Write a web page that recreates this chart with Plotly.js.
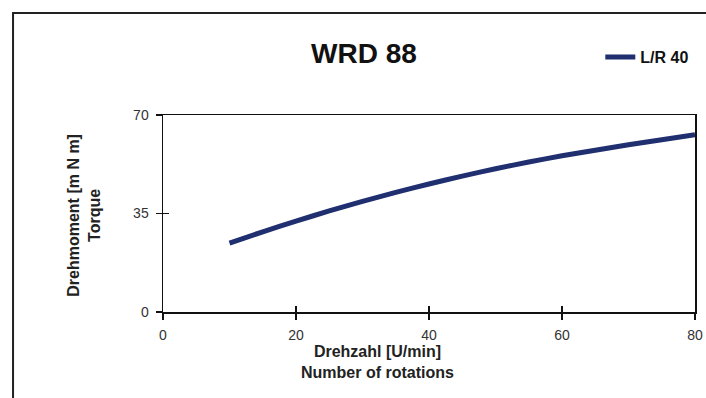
<!DOCTYPE html>
<html>
<head>
<meta charset="utf-8">
<script src="https://cdn.plot.ly/plotly-3.0.1.min.js"></script>
<style>html,body{margin:0;padding:0;background:#fff;overflow:hidden;}#chart{width:706px;height:398px;}</style>
</head>
<body>
<div id="chart"></div>
<script>
const speed = [10, 15, 20, 25, 30, 35, 40, 45, 50, 55, 60, 65, 70, 75, 80];
const torqueLR40 = [24.5, 28.5, 32.3, 35.9, 39.3, 42.5, 45.5, 48.3, 50.9, 53.3, 55.5, 57.5, 59.4, 61.2, 63.0];
const xTicks = [0, 20, 40, 60, 80];
const yTicks = [0, 35, 70];
const seriesName = 'L/R 40';
const chartTitle = 'WRD 88';

const sans = '"Liberation Sans", Arial, sans-serif';

const traces = [
  {x: speed, y: torqueLR40, name: seriesName, type: 'scatter', mode: 'lines',
   line: {color: '#1f2f6f', width: 5, shape: 'spline', smoothing: 0.8}, xaxis: 'x', yaxis: 'y'},
  {x: [null], y: [null], showlegend: false, xaxis: 'x2', yaxis: 'y2', hoverinfo: 'skip'}
];

const axBase = {showgrid: false, zeroline: false, linecolor: '#111', linewidth: 1.5,
  tickcolor: '#111', tickwidth: 1.5, ticklen: 6};

const layout = {
  width: 706, height: 398,
  margin: {l: 163, r: 11, t: 115, b: 86},
  paper_bgcolor: '#fff', plot_bgcolor: '#fff',
  title: {text: '<b>' + chartTitle + '</b>', x: 0.5156, xanchor: 'center', y: 0.866, yanchor: 'middle',
    font: {family: sans, size: 28, color: '#111'}},
  showlegend: true,
  legend: {x: 0.822, y: 1.294, xanchor: 'left', yanchor: 'middle', bgcolor: 'rgba(0,0,0,0)',
    font: {family: sans, size: 16, color: '#111', weight: 'bold'}, itemwidth: 30, tracegroupgap: 0},
  xaxis: Object.assign({}, axBase, {range: [0, 80], tickvals: xTicks, ticks: 'outside',
    mirror: false, showline: true, tickfont: {family: sans, size: 14, color: '#333'}, ticklabelstandoff: 4}),
  yaxis: Object.assign({}, axBase, {range: [0, 70], tickvals: yTicks, ticks: 'outside',
    showline: true, tickfont: {family: sans, size: 14, color: '#333'}, ticklabelstandoff: 4}),
  xaxis2: Object.assign({}, axBase, {range: [0, 80], tickvals: xTicks, ticks: 'inside', overlaying: 'x',
    showticklabels: false, showline: true, mirror: true, side: 'bottom'}),
  yaxis2: Object.assign({}, axBase, {range: [0, 70], tickvals: yTicks, ticks: 'inside', overlaying: 'y',
    showticklabels: false, showline: true, mirror: true, side: 'left'}),
  annotations: [
    {text: '<b>Drehmoment [m N m]<br>Torque</b>', xref: 'paper', yref: 'paper', x: -0.148, y: 0.49,
     xanchor: 'center', yanchor: 'middle', textangle: -90, showarrow: false,
     font: {family: sans, size: 16, color: '#222'}},
    {text: '<b>Drehzahl [U/min]<br>Number of rotations</b>', xref: 'paper', yref: 'paper', x: 0.404, y: -0.255,
     xanchor: 'center', yanchor: 'middle', showarrow: false,
     font: {family: sans, size: 16, color: '#222'}}
  ],
  shapes: [
    {type: 'line', xref: 'paper', yref: 'paper', x0: -0.282, x1: 1.03, y0: 1.518, y1: 1.518,
     line: {color: '#222', width: 2}, layer: 'below'},
    {type: 'rect', xref: 'paper', yref: 'paper', x0: -0.2838, x1: -0.2800, y0: -0.4365, y1: 1.523,
     line: {width: 0}, fillcolor: '#222', layer: 'below'}
  ]
};

Plotly.newPlot('chart', traces, layout, {staticPlot: true, displayModeBar: false});
</script>
</body>
</html>
